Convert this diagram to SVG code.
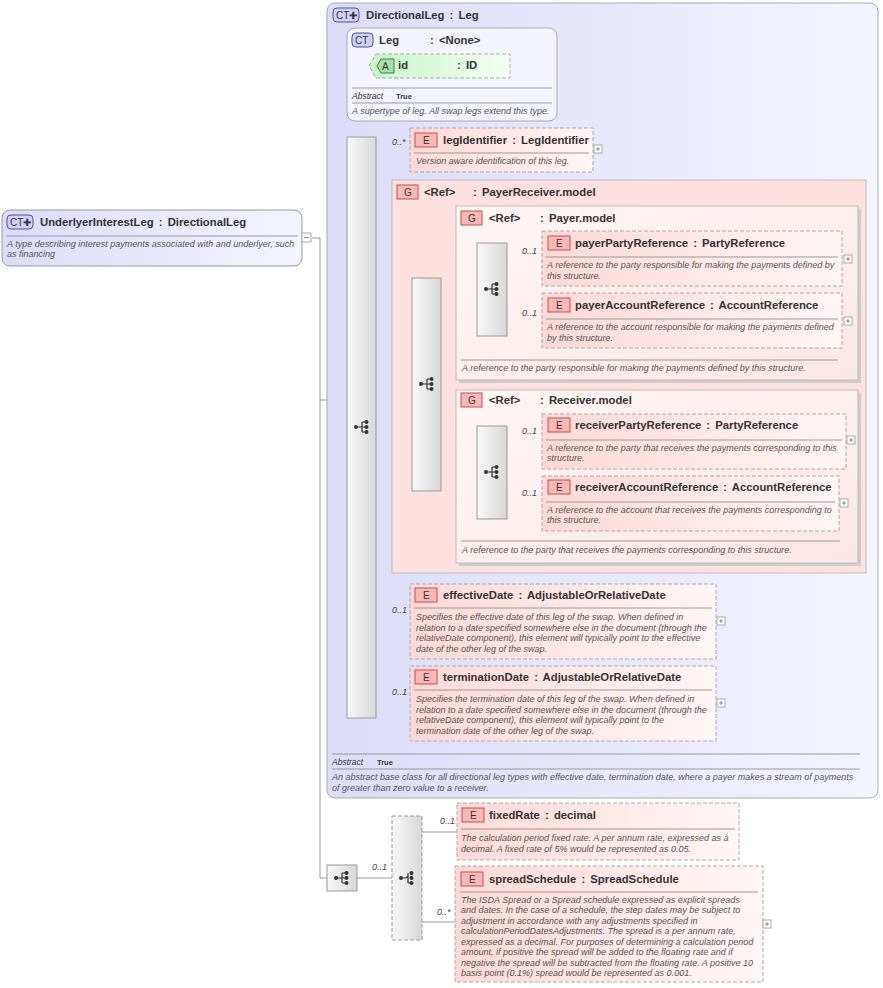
<svg xmlns="http://www.w3.org/2000/svg" width="883" height="988" viewBox="0 0 883 988">
<defs>
<linearGradient id="gCT" x1="0" y1="0" x2="1" y2="0"><stop offset="0" stop-color="#dcdcfa"/><stop offset="1" stop-color="#f4f4fe"/></linearGradient>
<linearGradient id="gE" x1="0" y1="0" x2="1" y2="0"><stop offset="0" stop-color="#fdd8d8"/><stop offset="1" stop-color="#fff6f6"/></linearGradient>
<linearGradient id="gA" x1="0" y1="0" x2="1" y2="0"><stop offset="0" stop-color="#c8f5c8"/><stop offset="1" stop-color="#f4fff4"/></linearGradient>
<linearGradient id="gS" x1="0" y1="0" x2="1" y2="0"><stop offset="0" stop-color="#f8f8f8"/><stop offset="1" stop-color="#d8d8d8"/></linearGradient>
<linearGradient id="gW" x1="0" y1="0" x2="1" y2="1"><stop offset="0" stop-color="#fff6f6"/><stop offset="1" stop-color="#fde6e6"/></linearGradient>
<symbol id="seq" viewBox="-10 -10 20 20" overflow="visible">
<path d="M-6 0H0M0 -5V5M0 -5H4M0 0H4M0 5H4" stroke="#333" stroke-width="1.2" fill="none"/>
<circle cx="-6" cy="0" r="2" fill="#333"/><circle cx="4.5" cy="-5" r="2" fill="#333"/><circle cx="4.5" cy="0" r="2" fill="#333"/><circle cx="4.5" cy="5" r="2" fill="#333"/>
</symbol>
<symbol id="cho" viewBox="-10 -10 20 20" overflow="visible">
<path d="M-6 0H-1M-1 0L1 -2M1 -5V5M1 5H4" stroke="#333" stroke-width="1.2" fill="none"/>
<circle cx="-6" cy="0" r="2" fill="#333"/><circle cx="4.5" cy="-5" r="2" fill="#333"/><circle cx="4.5" cy="0" r="2" fill="#333"/><circle cx="4.5" cy="5" r="2" fill="#333"/>
</symbol>
</defs>
<style>
text{font-family:"Liberation Sans",Arial,sans-serif;fill:#333}
.t{font-size:11.3px;font-weight:bold;word-spacing:2px}
.d{font-size:9px;font-style:italic;fill:#555}
.m{font-size:9px;font-style:italic;fill:#444}
.ab{font-size:8.5px;font-style:italic;fill:#333}
.tr{font-size:7.5px;font-weight:bold}
.bt{font-size:10px;fill:#333}
.sep{stroke:#999;stroke-width:1}
.el{fill:url(#gE);stroke:#aaa;stroke-dasharray:4 2}
.be{fill:#f8b8b8;stroke:#c05050}
.bc{fill:#d0d0f8;stroke:#505090}
.plus{fill:#fff;stroke:#aaa}
.ln{stroke:#999;fill:none}
.sb{fill:url(#gS);stroke:#999}
</style>

<g id="connectors" class="ln">
<path d="M312 238H320V878H330"/>
<path d="M320 400H337V427H347"/>
<path d="M337 400V75M337 66H370"/>
<path d="M376 148H410M376 378H392M376 620H410M376 703H410"/>
<path d="M441 292H456M441 475H456"/>
<path d="M507 259H542M507 321H542"/>
<path d="M507 442H542M507 504H542"/>
<path d="M357 878H392M422 832H457M422 922H455"/>
</g>

<g id="UnderlyerInterestLeg">
<rect x="2" y="210" width="300" height="56" rx="8" fill="url(#gCT)" stroke="#999"/>
<rect x="7" y="215" width="26" height="14" rx="4" class="bc"/><text x="10" y="226" class="bt">CT✚</text>
<text x="40" y="226" class="t">UnderlyerInterestLeg : DirectionalLeg</text>
<line x1="6" y1="236" x2="298" y2="236" class="sep"/>
<text x="7" y="247" class="d">A type describing interest payments associated with and underlyer, such</text>
<text x="7" y="257" class="d">as financing</text>
<rect x="302" y="233" width="9" height="9" class="plus"/><path d="M304 237.5H309" stroke="#888"/>
</g>

<g id="DirectionalLeg">
<rect x="327" y="3" width="551" height="795" rx="8" fill="url(#gCT)" stroke="#aaa"/>
<rect x="333" y="8" width="26" height="14" rx="4" class="bc"/><text x="336" y="19" class="bt">CT✚</text>
<text x="366" y="19" class="t">DirectionalLeg : Leg</text>
<line x1="332" y1="754" x2="860" y2="754" class="sep"/>
<text x="332" y="765" class="ab">Abstract</text><text x="377" y="765" class="tr">True</text>
<line x1="332" y1="769" x2="860" y2="769" class="sep"/>
<text x="332" y="780" class="d">An abstract base class for all directional leg types with effective date, termination date, where a payer makes a stream of payments</text>
<text x="332" y="791" class="d">of greater than zero value to a receiver.</text>
</g>

<g id="Leg">
<rect x="347" y="28" width="210" height="93" rx="8" fill="#f4f4fe" stroke="#aaa"/>
<rect x="352" y="33" width="21" height="14" rx="4" class="bc"/><text x="355" y="44" class="bt">CT</text>
<text x="379" y="44" class="t">Leg</text><text x="430" y="44" class="t">: &lt;None&gt;</text>
<line x1="352" y1="88" x2="552" y2="88" class="sep"/>
<text x="352" y="99" class="ab">Abstract</text><text x="396" y="99" class="tr">True</text>
<line x1="352" y1="103" x2="552" y2="103" class="sep"/>
<text x="352" y="114" class="d">A supertype of leg. All swap legs extend this type.</text>
</g>

<g id="id">
<path d="M376 54H510V78H376L369 66Z" fill="url(#gA)" stroke="#aaa" stroke-dasharray="4 2"/>
<path d="M381 59H394V73H381L377 66Z" fill="#a8e0a8" stroke="#3a803a"/><text x="382" y="70" class="bt">A</text>
<text x="398" y="69" class="t">id</text><text x="457" y="69" class="t">: ID</text>
</g>

<g id="seq1"><rect x="347" y="137" width="29" height="581" class="sb"/><use href="#seq" x="352" y="417" width="20" height="20"/></g>

<g id="legIdentifier">
<rect x="410" y="128" width="183" height="44" class="el"/>
<text x="392" y="145" class="m">0..*</text>
<rect x="415" y="133" width="22" height="14" class="be"/><text x="423" y="144" class="bt">E</text>
<text x="443" y="144" class="t">legIdentifier : LegIdentifier</text>
<line x1="414" y1="153" x2="589" y2="153" class="sep"/>
<text x="416" y="164" class="d">Version aware identification of this leg.</text>
<rect x="594" y="145" width="8" height="8" class="plus"/><path d="M596 149H600M598 147V151" stroke="#888"/>
</g>

<g id="PayerReceiver.model">
<rect x="392" y="180" width="474" height="393" fill="#ffe0e0" stroke="#bbb"/>
<rect x="397" y="185" width="21" height="14" class="be"/><text x="404" y="196" class="bt">G</text>
<text x="424" y="196" class="t">&lt;Ref&gt;</text><text x="473" y="196" class="t">: PayerReceiver.model</text>
<rect x="412" y="278" width="29" height="213" class="sb"/><use href="#seq" x="417" y="374" width="20" height="20"/>
</g>

<g id="Payer.model">
<rect x="459" y="209" width="402" height="174" fill="#ccc"/>
<rect x="456" y="206" width="402" height="174" fill="url(#gW)" stroke="#bbb"/>
<rect x="461" y="211" width="21" height="14" class="be"/><text x="468" y="222" class="bt">G</text>
<text x="489" y="222" class="t">&lt;Ref&gt;</text><text x="540" y="222" class="t">: Payer.model</text>
<rect x="477" y="243" width="30" height="93" class="sb"/><use href="#seq" x="482" y="279" width="20" height="20"/>
<line x1="461" y1="360" x2="838" y2="360" class="sep"/>
<text x="462" y="371" class="d">A reference to the party responsible for making the payments defined by this structure.</text>
</g>

<g id="payerPartyReference">
<rect x="542" y="231" width="300" height="55" class="el"/>
<text x="522" y="254" class="m">0..1</text>
<rect x="548" y="236" width="22" height="14" class="be"/><text x="556" y="247" class="bt">E</text>
<text x="575" y="247" class="t">payerPartyReference : PartyReference</text>
<line x1="546" y1="257" x2="838" y2="257" class="sep"/>
<text x="547" y="268" class="d">A reference to the party responsible for making the payments defined by</text>
<text x="547" y="279" class="d">this structure.</text>
<rect x="844" y="255" width="8" height="8" class="plus"/><path d="M846 259H850M848 257V261" stroke="#888"/>
</g>

<g id="payerAccountReference">
<rect x="542" y="293" width="300" height="55" class="el"/>
<text x="522" y="316" class="m">0..1</text>
<rect x="548" y="298" width="22" height="14" class="be"/><text x="556" y="309" class="bt">E</text>
<text x="575" y="309" class="t">payerAccountReference : AccountReference</text>
<line x1="546" y1="319" x2="838" y2="319" class="sep"/>
<text x="547" y="330" class="d">A reference to the account responsible for making the payments defined</text>
<text x="547" y="341" class="d">by this structure.</text>
<rect x="844" y="317" width="8" height="8" class="plus"/><path d="M846 321H850M848 319V323" stroke="#888"/>
</g>

<g id="Receiver.model">
<rect x="459" y="393" width="402" height="173" fill="#ccc"/>
<rect x="456" y="390" width="402" height="173" fill="url(#gW)" stroke="#bbb"/>
<rect x="461" y="393" width="21" height="14" class="be"/><text x="468" y="404" class="bt">G</text>
<text x="489" y="404" class="t">&lt;Ref&gt;</text><text x="540" y="404" class="t">: Receiver.model</text>
<rect x="477" y="426" width="30" height="93" class="sb"/><use href="#seq" x="482" y="462" width="20" height="20"/>
<line x1="461" y1="541" x2="840" y2="541" class="sep"/>
<text x="462" y="553" class="d">A reference to the party that receives the payments corresponding to this structure.</text>
</g>

<g id="receiverPartyReference">
<rect x="542" y="414" width="304" height="55" class="el"/>
<text x="522" y="434" class="m">0..1</text>
<rect x="548" y="418" width="22" height="14" class="be"/><text x="556" y="429" class="bt">E</text>
<text x="575" y="429" class="t">receiverPartyReference : PartyReference</text>
<line x1="546" y1="440" x2="842" y2="440" class="sep"/>
<text x="547" y="451" class="d">A reference to the party that receives the payments corresponding to this</text>
<text x="547" y="461" class="d">structure.</text>
<rect x="847" y="436" width="8" height="8" class="plus"/><path d="M849 440H853M851 438V442" stroke="#888"/>
</g>

<g id="receiverAccountReference">
<rect x="542" y="476" width="297" height="55" class="el"/>
<text x="522" y="496" class="m">0..1</text>
<rect x="548" y="480" width="22" height="14" class="be"/><text x="556" y="491" class="bt">E</text>
<text x="575" y="491" class="t">receiverAccountReference : AccountReference</text>
<line x1="546" y1="502" x2="835" y2="502" class="sep"/>
<text x="547" y="513" class="d">A reference to the account that receives the payments corresponding to</text>
<text x="547" y="523" class="d">this structure.</text>
<rect x="840" y="499" width="8" height="8" class="plus"/><path d="M842 503H846M844 501V505" stroke="#888"/>
</g>

<g id="effectiveDate">
<rect x="410" y="584" width="306" height="75" class="el"/>
<text x="392" y="613" class="m">0..1</text>
<rect x="415" y="588" width="22" height="14" class="be"/><text x="423" y="599" class="bt">E</text>
<text x="443" y="599" class="t">effectiveDate : AdjustableOrRelativeDate</text>
<line x1="414" y1="608" x2="712" y2="608" class="sep"/>
<text x="416" y="620" class="d">Specifies the effective date of this leg of the swap. When defined in</text>
<text x="416" y="631" class="d">relation to a date specified somewhere else in the document (through the</text>
<text x="416" y="641" class="d">relativeDate component), this element will typically point to the effective</text>
<text x="416" y="652" class="d">date of the other leg of the swap.</text>
<rect x="717" y="617" width="8" height="8" class="plus"/><path d="M719 621H723M721 619V623" stroke="#888"/>
</g>

<g id="terminationDate">
<rect x="410" y="666" width="306" height="75" class="el"/>
<text x="392" y="695" class="m">0..1</text>
<rect x="415" y="670" width="22" height="14" class="be"/><text x="423" y="681" class="bt">E</text>
<text x="443" y="681" class="t">terminationDate : AdjustableOrRelativeDate</text>
<line x1="414" y1="690" x2="712" y2="690" class="sep"/>
<text x="416" y="702" class="d">Specifies the termination date of this leg of the swap. When defined in</text>
<text x="416" y="713" class="d">relation to a date specified somewhere else in the document (through the</text>
<text x="416" y="723" class="d">relativeDate component), this element will typically point to the</text>
<text x="416" y="734" class="d">termination date of the other leg of the swap.</text>
<rect x="717" y="699" width="8" height="8" class="plus"/><path d="M719 703H723M721 701V705" stroke="#888"/>
</g>

<g id="seq2"><rect x="327" y="865" width="30" height="26" class="sb"/><use href="#seq" x="332" y="868" width="20" height="20"/>
<text x="372" y="870" class="m">0..1</text></g>
<g id="choice1"><rect x="392" y="816" width="30" height="124" class="sb" stroke-dasharray="4 2"/><use href="#cho" x="397" y="868" width="20" height="20"/></g>

<g id="fixedRate">
<rect x="457" y="803" width="282" height="57" class="el"/>
<text x="440" y="824" class="m">0..1</text>
<rect x="462" y="808" width="22" height="14" class="be"/><text x="470" y="819" class="bt">E</text>
<text x="489" y="819" class="t">fixedRate : decimal</text>
<line x1="461" y1="829" x2="735" y2="829" class="sep"/>
<text x="461" y="841" class="d">The calculation period fixed rate. A per annum rate, expressed as a</text>
<text x="461" y="852" class="d">decimal. A fixed rate of 5% would be represented as 0.05.</text>
</g>

<g id="spreadSchedule">
<rect x="455" y="866" width="308" height="116" class="el"/>
<text x="437" y="915" class="m">0..*</text>
<rect x="461" y="872" width="22" height="14" class="be"/><text x="469" y="883" class="bt">E</text>
<text x="489" y="883" class="t">spreadSchedule : SpreadSchedule</text>
<line x1="460" y1="892" x2="758" y2="892" class="sep"/>
<text x="461" y="903" class="d">The ISDA Spread or a Spread schedule expressed as explicit spreads</text>
<text x="461" y="913" class="d">and dates. In the case of a schedule, the step dates may be subject to</text>
<text x="461" y="924" class="d">adjustment in accordance with any adjustments specified in</text>
<text x="461" y="934" class="d">calculationPeriodDatesAdjustments. The spread is a per annum rate,</text>
<text x="461" y="945" class="d">expressed as a decimal. For purposes of determining a calculation period</text>
<text x="461" y="955" class="d">amount, if positive the spread will be added to the floating rate and if</text>
<text x="461" y="966" class="d">negative the spread will be subtracted from the floating rate. A positive 10</text>
<text x="461" y="976" class="d">basis point (0.1%) spread would be represented as 0.001.</text>
<rect x="763" y="920" width="8" height="8" class="plus"/><path d="M765 924H769M767 922V926" stroke="#888"/>
</g>
</svg>
